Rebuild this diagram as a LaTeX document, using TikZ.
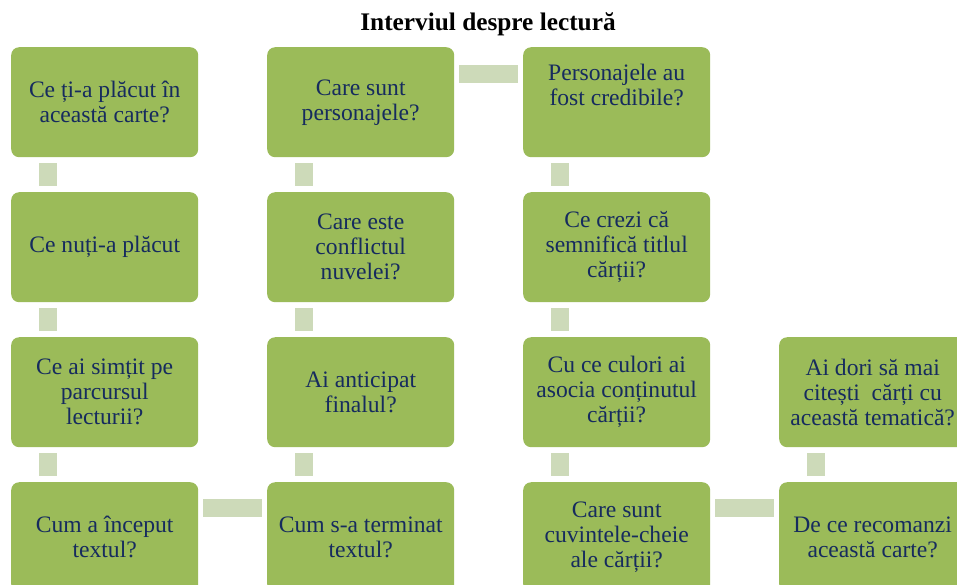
\documentclass[tikz,border=0pt]{standalone}
\usepackage{fontspec}
\setmainfont{Liberation Serif}
\usetikzlibrary{matrix,positioning}
\definecolor{boxgreen}{RGB}{155,187,89}
\definecolor{bargreen}{RGB}{205,218,185}
\definecolor{asktext}{RGB}{22,43,94}

\begin{document}
\begin{tikzpicture}[x=1pt,y=-1pt,
		question/.style={fill=boxgreen,rounded corners=8pt,text=asktext,anchor=center,
			minimum width=187pt,minimum height=110pt,text width=182pt,inner sep=0pt,
			align=flush center,font=\fontsize{23.6}{25}\selectfont},
		vbar/.style={draw=bargreen,line width=18pt,shorten <=6pt,shorten >=6pt},
		hbar/.style={draw=bargreen,line width=18pt,shorten <=5pt,shorten >=5pt}]
		\useasboundingbox (0,0) rectangle (957,584);
		\clip (0,0) rectangle (957,584);
		\node[anchor=base,font=\bfseries\fontsize{25.3}{28}\selectfont] (title) at (488,30) {Interviul despre lectură};
		\matrix (m) [
			matrix of nodes,
			nodes={question},
			row sep=35pt,
			column sep=69pt,
			inner sep=0pt,
			anchor=north west
		] at (11,47)
		{
			{Ce ți-a plăcut în\\această carte?} & {Care sunt\\personajele?} & {Personajele au\\fost credibile?\\[9pt]\mbox{}} \\
			{Ce nuți-a plăcut} & {Care este\\conflictul\\nuvelei?} & {Ce crezi că\\semnifică titlul\\cărții?} \\
			{Ce ai simțit pe\\parcursul\\lecturii?} & {Ai anticipat\\finalul?} & {Cu ce culori ai\\asocia conținutul\\cărții?} & {Ai dori să mai\\citești\ \ cărți cu\\această tematică?} \\
			{Cum a început\\textul?} & {Cum s-a terminat\\textul?} & {Care sunt\\cuvintele-cheie\\ale cărții?} & {De ce recomanzi\\această carte?} \\
		};
		% snake of connectors
		\foreach \c in {1,2,3}
			\foreach \r/\s in {1/2,2/3,3/4}
				\draw[vbar] ([xshift=37pt]m-\r-\c.south west) -- ([xshift=37pt]m-\s-\c.north west);
		\draw[vbar] ([xshift=37pt]m-3-4.south west) -- ([xshift=37pt]m-4-4.north west);
		\draw[hbar] ([yshift=-26pt]m-4-1.north east) -- ([yshift=-26pt]m-4-2.north west);
		\draw[hbar] ([yshift=-27pt]m-1-2.north east) -- ([yshift=-27pt]m-1-3.north west);
		\draw[hbar] ([yshift=-26pt]m-4-3.north east) -- ([yshift=-26pt]m-4-4.north west);
	\end{tikzpicture}
\end{document}
